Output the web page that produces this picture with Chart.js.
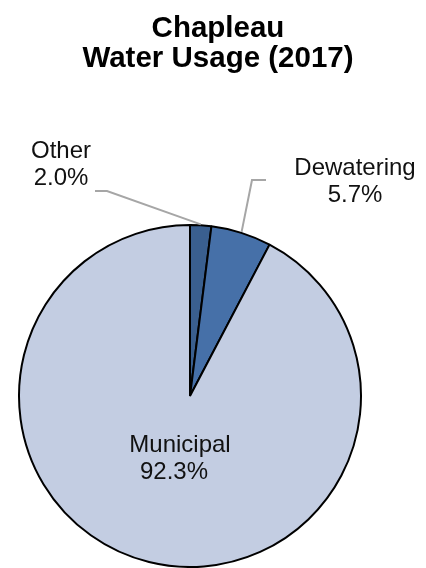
<!DOCTYPE html>
<html>
<head>
<meta charset="utf-8">
<script src="https://cdn.jsdelivr.net/npm/chart.js@4"></script>
<style>
  html, body { margin: 0; padding: 0; background: #fff; }
</style>
</head>
<body>
<canvas id="myChart" width="426" height="568"></canvas>
<script>
// data
const categories = ["Other", "Dewatering", "Municipal"];
const shares = [2.0, 5.7, 92.3];
const titleLines = ["Chapleau", "Water Usage (2017)"];

const sliceColors = ["#3a5f8f", "#4670a8", "#c3cde2"];

// where each data label sits, and the elbow of its leader line (if any)
const labelSpots = [
  { x: 61, y: 158, leader: [[107, 191], [95, 191]] },
  { x: 355, y: 175, leader: [[252, 180], [266, 180]] },
  { x: 180, y: 452, leader: null },
];

const labelPlugin = {
  id: "pieLabels",
  afterDatasetsDraw(chart) {
    const ctx = chart.ctx;
    const arcs = chart.getDatasetMeta(0).data;

    ctx.save();
    // leader lines
    ctx.strokeStyle = "#a6a6a6";
    ctx.lineWidth = 2;
    arcs.forEach(function (arc, i) {
      const spot = labelSpots[i];
      if (!spot.leader) return;
      const p = arc.getProps(["x", "y", "startAngle", "endAngle", "outerRadius"], true);
      const mid = (p.startAngle + p.endAngle) / 2;
      const r = p.outerRadius + 1;
      ctx.beginPath();
      ctx.moveTo(p.x + Math.cos(mid) * r, p.y + Math.sin(mid) * r);
      spot.leader.forEach(function (pt) {
        ctx.lineTo(pt[0], pt[1]);
      });
      ctx.stroke();
    });

    // label text
    ctx.fillStyle = "#111";
    ctx.font = "24px 'Liberation Sans', Arial, sans-serif";
    ctx.textAlign = "center";
    ctx.textBaseline = "alphabetic";
    categories.forEach(function (name, i) {
      const spot = labelSpots[i];
      ctx.fillText(name, spot.x, spot.y);
      ctx.fillText(shares[i].toFixed(1) + "%", spot.x - (i === 2 ? 6 : 0), spot.y + 27);
    });

    // title
    ctx.fillStyle = "#000";
    ctx.font = "bold 29.5px 'Liberation Sans', Arial, sans-serif";
    titleLines.forEach(function (line, i) {
      ctx.fillText(line, 218, 37 + i * 30);
    });
    ctx.restore();
  },
};

const ctx = document.getElementById("myChart").getContext("2d");
const myChart = new Chart(ctx, {
  type: "pie",
  data: {
    labels: categories,
    datasets: [
      {
        data: shares,
        backgroundColor: sliceColors,
        borderColor: "#000",
        borderWidth: 2,
        radius: 171,
      },
    ],
  },
  options: {
    responsive: false,
    animation: false,
    layout: {
      padding: { left: 0, right: 46, top: 224, bottom: 0 },
    },
    plugins: {
      legend: { display: false },
      tooltip: { enabled: false },
      title: { display: false },
    },
  },
  plugins: [labelPlugin],
});
</script>
</body>
</html>
